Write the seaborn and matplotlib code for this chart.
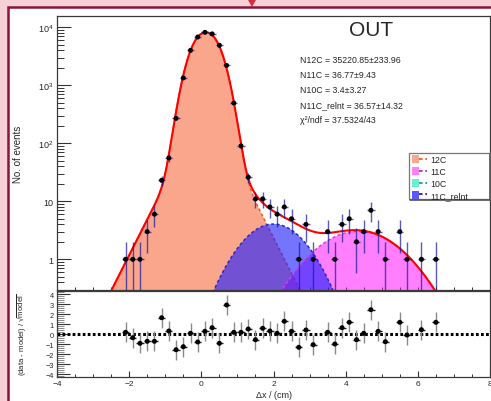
import numpy as np
import matplotlib
matplotlib.use('Agg')
import matplotlib.pyplot as plt
import seaborn as sns
from matplotlib.patches import Rectangle, Polygon, Patch
from matplotlib.lines import Line2D
from matplotlib.legend_handler import HandlerTuple
from matplotlib.ticker import MultipleLocator, FixedLocator, FixedFormatter, NullFormatter, LogLocator

# ---------------- data ----------------
bin_centers = [-2.1, -1.9, -1.7, -1.5, -1.3, -1.1, -0.9, -0.7, -0.5, -0.3,
               -0.1, 0.1, 0.3, 0.5, 0.7, 0.9, 1.1, 1.3, 1.5, 1.7,
               1.9, 2.1, 2.3, 2.5, 2.7, 2.9, 3.1, 3.5, 3.7, 3.9,
               4.1, 4.3, 4.5, 4.7, 4.9, 5.1, 5.5, 5.7, 6.1, 6.5]
counts = [1, 1, 1, 3, 6, 23, 56, 270, 1340, 4000,
          6800, 8200, 7700, 4900, 2200, 495, 90, 26, 11, 11,
          8, 6, 8, 5, 1, 4, 1, 3, 1, 4,
          5, 2, 3, 7, 3, 1, 3, 1, 1, 1]
pulls = [0.17, -0.37, -0.93, -0.73, -0.73, 1.63, 0.3, -1.57, -1.27, 0.07,
         -0.8, 0.27, 0.63, -0.93, 2.9, 0.17, 0.17, 0.5, -0.57, 0.57,
         0.3, 0.07, 1.27, 0.27, -1.33, 0.4, -1.07, 0.17, -1.0, 0.63,
         1.17, -0.57, 0.07, 2.43, 0.27, -0.77, 1.17, -0.1, 0.43, 1.17]
bin_half_width = 0.1

# fitted model components (shape parameters)
c12_core = [7726, 0.124, 0.495, 2.3]      # amplitude, mean, width, power
c12_tail = [480, 0.353]                     # amplitude, decay length
gauss_names = ['11C', '10C', '11C_relnt']
gauss_amp = [3.05, 0.29, 4.06]
gauss_mu = [4.35, 3.0, 2.0]
gauss_sigma = [0.98, 0.93, 0.72]

legend_labels = ['12C', '11C', '10C', '11C_relnt']
fit_text = ['N12C = 35220.85\u00b1233.96', 'N11C = 36.77\u00b19.43', 'N10C = 3.4\u00b13.27',
            'N11C_relnt = 36.57\u00b114.32', '\u03c7\u00b2/ndf = 37.5324/43']
ytick_vals = [1, 10, 100, 1000, 10000]
ytick_labels = ['1', '10', '10$^{2}$', '10$^{3}$', '10$^{4}$']

# ---------------- style ----------------
sns.set_theme(style='ticks')
plt.rcParams['font.family'] = ['Liberation Sans', 'DejaVu Sans']
plt.rcParams['mathtext.fontset'] = 'custom'
plt.rcParams['mathtext.rm'] = 'Liberation Sans'
plt.rcParams['mathtext.it'] = 'Liberation Sans:italic'
plt.rcParams['mathtext.bf'] = 'Liberation Sans:bold'

W, H = 491, 402
fig = plt.figure(figsize=(W / 100, H / 100), dpi=100)
fig.patch.set_facecolor('#f6d1d8')
fx = lambda p: p / W
fy = lambda p: 1 - p / H

fig.patches.append(Rectangle((fx(8), -0.1), 1.2, fy(8) + 0.1, transform=fig.transFigure,
                             facecolor='white', edgecolor='#8a1538', lw=1.8, zorder=-2))
fig.patches.append(Polygon([(fx(247.5), 1.0), (fx(256.5), 1.0), (fx(252), fy(8))], closed=True,
                           transform=fig.transFigure, facecolor='#d2303c', edgecolor='none', zorder=-1))

ax1 = fig.add_axes([fx(57), fy(291), fx(490) - fx(57), fy(17) - fy(291)])
ax2 = fig.add_axes([fx(57), fy(378), fx(490) - fx(57), fy(292) - fy(378)])
for a in (ax1, ax2):
    a.set_facecolor('none')
    for s in a.spines.values():
        s.set_color('#3a3a3a')
        s.set_linewidth(0.9)

# ---------------- model curves ----------------
xg = np.linspace(-4, 8, 2401)
d12 = np.abs(xg - c12_core[1])
y12 = c12_core[0] * np.exp(-(d12 / c12_core[2]) ** c12_core[3]) + c12_tail[0] * np.exp(-d12 / c12_tail[1])
yg = [a * np.exp(-0.5 * ((xg - m) / s) ** 2) for a, m, s in zip(gauss_amp, gauss_mu, gauss_sigma)]
total = y12 + sum(yg)
floor = 1e-3

ax1.set_yscale('log')
ax1.fill_between(xg, floor, y12, color='#f9a68c', lw=0, zorder=1)
ax1.plot(xg, y12, color='#f25a28', lw=1.1, ls=(0, (2, 1.6)), zorder=2)
fill_cols = [(1.0, 0.0, 1.0, 0.5), (0.2, 0.9, 0.75, 0.6), (0.12, 0.12, 1.0, 0.62)]
edge_cols = ['#d83cd8', '#20b8a0', '#2a2ad0']
for yc, fc, ec in zip(yg, fill_cols, edge_cols):
    ax1.fill_between(xg, floor, yc, color=fc, lw=0, zorder=3)
    ax1.plot(xg, yc, color=ec, lw=1.1, ls=(0, (2, 1.6)), zorder=4)
sns.lineplot(x=xg, y=total, ax=ax1, color='#ff0000', lw=1.5, estimator=None, sort=False, zorder=6)

# data
cnt = np.array(counts, float)
err = np.sqrt(cnt)
lo = np.minimum(err, cnt - 1e-3)
ax1.errorbar(bin_centers, cnt, yerr=[lo, err], xerr=bin_half_width, fmt='none',
             ecolor=(0.1, 0.1, 0.62, 0.72), elinewidth=1.0, capsize=0, zorder=7)
sns.scatterplot(x=bin_centers, y=counts, ax=ax1, color='black', s=13, edgecolor='none',
                linewidth=0, zorder=8)

ax1.set_xlim(-4, 8)
ax1.set_ylim(10 ** -0.529, 10 ** 4.195)
ax1.yaxis.set_major_locator(FixedLocator(ytick_vals))
ax1.yaxis.set_major_formatter(FixedFormatter(ytick_labels))
ax1.yaxis.set_minor_locator(LogLocator(base=10, subs=np.arange(2, 10), numticks=20))
ax1.yaxis.set_minor_formatter(NullFormatter())
ax1.xaxis.set_major_locator(MultipleLocator(2))
ax1.xaxis.set_minor_locator(MultipleLocator(0.5))
ax1.tick_params(axis='y', which='major', direction='in', length=10, width=0.8, color='#333',
                labelsize=6.5, pad=2.5, left=True, right=False)
ax1.tick_params(axis='y', which='minor', direction='in', length=5, width=0.7, color='#333',
                left=True, right=False)
ax1.tick_params(axis='x', which='both', direction='in', length=2.5, width=0.7, color='#333',
                bottom=True, top=False, labelbottom=False)
ax1.set_ylabel('No. of events', fontsize=7)
ax1.yaxis.set_label_coords(-0.079, 0.5)

# stats text
fig.text(fx(371), fy(31), 'OUT', fontsize=15, ha='center', va='center')
for i, t in enumerate(fit_text):
    fig.text(fx(300), fy(60.3 + 15 * i), t, fontsize=6.3, ha='left', va='center')

# legend (frame drawn inside ax1 so it stays above the curves)
ax1.add_patch(Rectangle((fx(409), fy(200)), fx(490) - fx(409), fy(154) - fy(200),
                        transform=fig.transFigure, facecolor='white', edgecolor='#777777',
                        lw=0.9, zorder=10, clip_on=False))
ax1.add_line(Line2D([fx(490), fx(490)], [fy(201), fy(155)], transform=fig.transFigure,
                    color='#555555', lw=1.2, zorder=11, clip_on=False))
ax1.add_line(Line2D([fx(410), fx(490)], [fy(200.5), fy(200.5)], transform=fig.transFigure,
                    color='#555555', lw=1.2, zorder=11, clip_on=False))
leg_face = ['#f9a68c', (1.0, 0.5, 1.0), (0.4, 0.95, 0.82), (0.35, 0.35, 1.0)]
leg_edge = ['#f25a28', '#b030c0', '#20a090', '#2020b0']
handles = [(Patch(facecolor=f, edgecolor='none'), Line2D([], [], color=e, lw=1.3, ls=(0, (2, 1.5))))
           for f, e in zip(leg_face, leg_edge)]
leg = ax1.legend(handles, legend_labels, handler_map={tuple: HandlerTuple(ndivide=None, pad=0)},
                 loc='upper left', bbox_to_anchor=(fx(409), fy(153.5)), bbox_transform=fig.transFigure,
                 frameon=False, fontsize=6.3, borderaxespad=0, borderpad=0.3, labelspacing=0.33,
                 handlelength=1.75, handleheight=0.95, handletextpad=0.4)
leg.set_zorder(12)

# ---------------- residual panel ----------------
ax2.axhline(0, color='black', lw=2.2, ls=(0, (0.9, 0.75)), zorder=2)
ax2.errorbar(bin_centers, pulls, yerr=1.0, fmt='none', ecolor='#8a8a8a', elinewidth=1.0,
             capsize=0, zorder=3)
ax2.errorbar(bin_centers, pulls, xerr=bin_half_width, fmt='none', ecolor='#222222',
             elinewidth=1.0, capsize=0, zorder=3)
sns.scatterplot(x=bin_centers, y=pulls, ax=ax2, color='black', s=13, edgecolor='none',
                linewidth=0, zorder=4)
ax2.set_xlim(-4, 8)
ax2.set_ylim(-4.3, 4.3)
ax2.yaxis.set_major_locator(MultipleLocator(1))
ax2.yaxis.set_minor_locator(MultipleLocator(0.2))
ax2.xaxis.set_major_locator(MultipleLocator(2))
ax2.xaxis.set_minor_locator(MultipleLocator(0.5))
ax2.tick_params(axis='y', which='major', direction='in', length=9.5, width=0.8, color='#333',
                labelsize=5.3, pad=2.5, left=True, right=False)
ax2.tick_params(axis='y', which='minor', direction='in', length=5, width=0.6, color='#777',
                left=True, right=False)
ax2.tick_params(axis='x', which='major', direction='in', length=4, width=0.8, color='#333',
                labelsize=6, pad=2.5, bottom=True, top=False)
ax2.tick_params(axis='x', which='minor', direction='in', length=2, width=0.7, color='#333',
                bottom=True, top=False)
ax2.set_ylabel('(data - model) / \u221a$\\overline{\\mathrm{model}}$', fontsize=5.6)
ax2.yaxis.set_label_coords(-0.066, 0.5)
ax2.set_xlabel('\u0394x / (cm)', fontsize=6.5)
ax2.xaxis.set_label_coords(0.5, -0.15)

fig.savefig('out.png', dpi=100, facecolor=fig.get_facecolor())
